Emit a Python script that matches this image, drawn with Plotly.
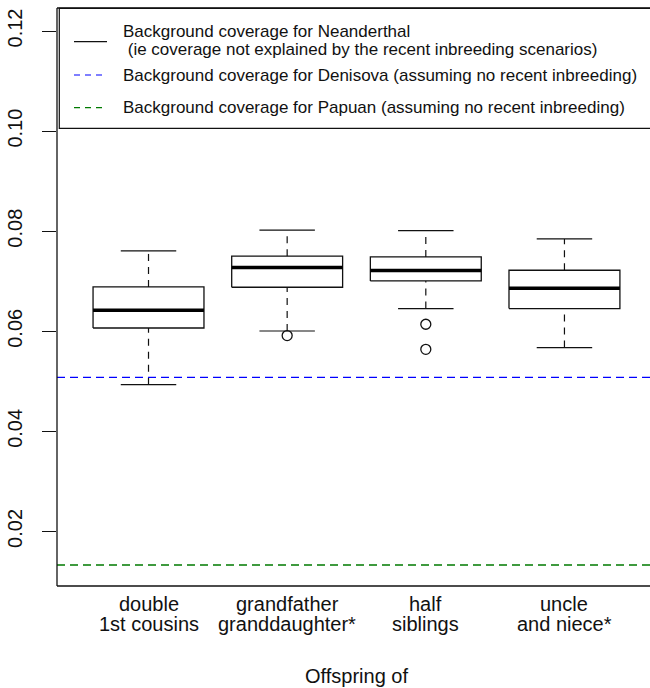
import plotly.graph_objects as go

# Offspring scenarios (x categories)
categories = ["double<br>1st cousins", "grandfather<br>granddaughter*",
              "half<br>siblings", "uncle<br>and niece*"]

# Five-number summaries of background coverage per scenario
q1 = [0.06066, 0.0688, 0.07006, 0.06454]
median = [0.0642, 0.07274, 0.07214, 0.0686]
q3 = [0.06886, 0.0750, 0.07486, 0.0722]
lower_whisker = [0.04934, 0.06006, 0.06454, 0.05674]
upper_whisker = [0.07606, 0.0802, 0.0801, 0.07846]

# Outlying values (scenario index, value)
outlier_pos = [2, 3, 3]
outlier_val = [0.05914, 0.0614, 0.0564]

# Reference coverage levels
denisova_bg = 0.0508
papuan_bg = 0.0133

# y axis ticks
y_ticks = [0.02, 0.04, 0.06, 0.08, 0.10, 0.12]
y_ticktext = ["0.02", "0.04", "0.06", "0.08", "0.10", "0.12"]

legend_labels = [
    "Background coverage for Neanderthal",
    " (ie coverage not explained by the recent inbreeding scenarios)",
    "Background coverage for Denisova (assuming no recent inbreeding)",
    "Background coverage for Papuan (assuming no recent inbreeding)",
]

FONT = "Liberation Sans, Arial, sans-serif"
INK = "#111111"
BLUE = "#0000ff"
GREEN = "#007a00"
W, H = 650, 688
ML, MT, MB = 57, 8, 102
PW, PH = W - ML, H - MT - MB
X_RANGE = [0.34, 4.617]

def px_x(px):
    return (px - ML) / PW

def px_y(py):
    return (H - MB - py) / PH

BOX_HALF = 0.4
CAP_HALF = 0.2

fig = go.Figure()

for i in range(len(categories)):
    x = i + 1
    # dashed whiskers
    for a, b in ((lower_whisker[i], q1[i]), (q3[i], upper_whisker[i])):
        fig.add_trace(go.Scatter(x=[x, x], y=[a, b], mode="lines",
                                 line=dict(color=INK, width=1.2, dash="7px,6px"),
                                 showlegend=False, hoverinfo="skip"))
    # whisker caps
    for v in (lower_whisker[i], upper_whisker[i]):
        fig.add_trace(go.Scatter(x=[x - CAP_HALF, x + CAP_HALF], y=[v, v], mode="lines",
                                 line=dict(color=INK, width=1.2),
                                 showlegend=False, hoverinfo="skip"))
    # box body
    fig.add_trace(go.Scatter(
        x=[x - BOX_HALF, x + BOX_HALF, x + BOX_HALF, x - BOX_HALF, x - BOX_HALF],
        y=[q1[i], q1[i], q3[i], q3[i], q1[i]], mode="lines",
        line=dict(color=INK, width=1.3), fill="toself", fillcolor="white",
        showlegend=False, hoverinfo="skip"))
    # median
    fig.add_trace(go.Scatter(x=[x - BOX_HALF, x + BOX_HALF], y=[median[i], median[i]],
                             mode="lines", line=dict(color="black", width=3.6),
                             showlegend=False, hoverinfo="skip"))

fig.add_trace(go.Scatter(x=outlier_pos, y=outlier_val, mode="markers",
                         marker=dict(symbol="circle-open", size=10,
                                     color=INK, line=dict(width=1.3, color=INK)),
                         showlegend=False, hoverinfo="skip"))

# horizontal reference levels across the whole panel
for level, colour in ((denisova_bg, BLUE), (papuan_bg, GREEN)):
    fig.add_trace(go.Scatter(x=X_RANGE, y=[level, level], mode="lines",
                             line=dict(color=colour, width=1.3, dash="8px,5px"),
                             showlegend=False, hoverinfo="skip", cliponaxis=True))

shapes = [
    # plot frame (left, top, bottom)
    dict(type="line", xref="paper", yref="paper", x0=0, x1=0, y0=0, y1=1,
         line=dict(color=INK, width=1.3)),
    dict(type="line", xref="paper", yref="paper", x0=0, x1=1.02, y0=1, y1=1,
         line=dict(color=INK, width=1.3)),
    dict(type="line", xref="paper", yref="paper", x0=0, x1=1.02, y0=0, y1=0,
         line=dict(color=INK, width=1.3)),
    # legend box
    dict(type="rect", xref="paper", yref="paper", x0=px_x(59.3), x1=px_x(654),
         y0=px_y(128.3), y1=px_y(8.3), line=dict(color=INK, width=1.2),
         fillcolor="white", layer="above"),
    # legend keys
    dict(type="line", xref="paper", yref="paper", x0=px_x(74), x1=px_x(107),
         y0=px_y(41.7), y1=px_y(41.7), line=dict(color=INK, width=1.2)),
    dict(type="line", xref="paper", yref="paper", x0=px_x(74), x1=px_x(107),
         y0=px_y(75), y1=px_y(75), line=dict(color=BLUE, width=1.2, dash="6px,5px")),
    dict(type="line", xref="paper", yref="paper", x0=px_x(74), x1=px_x(107),
         y0=px_y(107.7), y1=px_y(107.7), line=dict(color=GREEN, width=1.2, dash="6px,5px")),
]

legend_rows = [31.5, 49.5, 75, 107.7]
annotations = []
for label, py in zip(legend_labels, legend_rows):
    annotations.append(dict(text=label, xref="paper", yref="paper",
                            x=px_x(121), y=px_y(py), xanchor="left", yanchor="middle",
                            showarrow=False, font=dict(family=FONT, size=17, color=INK)))

# category labels, two lines each, under the boxes
for i, cat in enumerate(categories):
    for line_text, py in zip(cat.split("<br>"), (604, 624)):
        annotations.append(dict(text=line_text, xref="x", yref="paper",
                                x=i + 1, y=px_y(py), xanchor="center", yanchor="middle",
                                showarrow=False, font=dict(family=FONT, size=20, color=INK)))

annotations.append(dict(text="Offspring of", xref="paper", yref="paper",
                        x=px_x(356), y=px_y(676), xanchor="center", yanchor="middle",
                        showarrow=False, font=dict(family=FONT, size=20, color=INK)))

fig.update_layout(
    width=W, height=H,
    margin=dict(l=ML, r=0, t=MT, b=MB, pad=0),
    paper_bgcolor="white", plot_bgcolor="white",
    showlegend=False,
    shapes=shapes, annotations=annotations,
    xaxis=dict(range=X_RANGE, tickvals=[1, 2, 3, 4], showticklabels=False,
               ticks="", showgrid=False, zeroline=False, showline=False),
    yaxis=dict(range=[0.0091, 0.1246], tickvals=y_ticks, ticktext=y_ticktext,
               tickangle=-90, ticks="outside", ticklen=14, tickwidth=1.2,
               tickcolor=INK, ticklabelstandoff=12,
               showgrid=False, zeroline=False, showline=False,
               tickfont=dict(family=FONT, size=20, color=INK)),
)

fig.write_html("out.html")
